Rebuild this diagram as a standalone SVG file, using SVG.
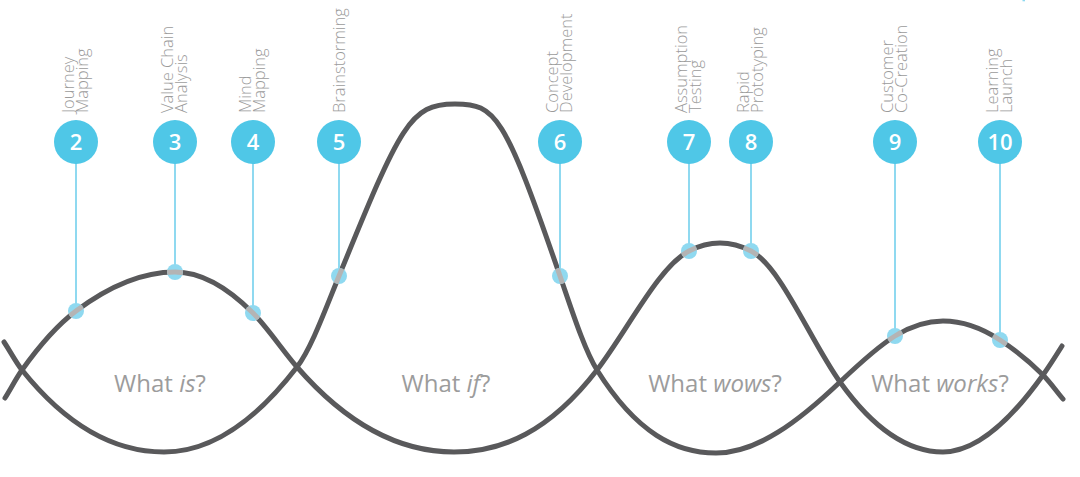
<svg xmlns="http://www.w3.org/2000/svg" width="1080" height="477" viewBox="0 0 1080 477">
<style>
.wave{fill:none;stroke:#59595b;stroke-width:5;stroke-linecap:round}
.waveLite{fill:none;stroke:#b4b4b4;stroke-width:5}
.stem{stroke:#8fd9f0;stroke-width:2}
.dot{fill:#8fd9f0}
.badge{fill:#4fc7e7}
.num{font-family:"Open Sans","DejaVu Sans",sans-serif;font-size:22px;font-weight:600;fill:#ffffff;text-anchor:middle}
.lbl{font-family:"Open Sans","DejaVu Sans",sans-serif;font-size:16.5px;font-weight:300;fill:#9b9b9b}
.q{font-family:"Open Sans","DejaVu Sans",sans-serif;font-size:24px;font-weight:400;fill:#9c9c9c;text-anchor:middle}
.it{font-style:italic}
</style>
<defs>
<path id="curveA" d="M5,398 C10.67,388.93 16.33,377.93 22,370 C40,344.8 58,324.5 76,311 C109,286.25 142,272 175,272 C201,272 227,287 253,313 C267.67,327.67 282.33,350.13 297,367 C349.33,427.18 401.67,452 454,452 C501.67,452 549.33,431.97 597,370 C627.67,330.13 658.33,266.95 689,251 C699.33,245.63 709.67,243 720,243 C730.33,243 740.67,245.63 751,251 C780.67,266.43 810.33,340.47 840,382 C874.33,430.07 908.67,452 943,452 C976.33,452 1009.67,421.67 1043,375 C1049.33,366.13 1055.67,356.13 1062,346"/>
<path id="curveB" d="M4,342 C10,351 16,362.5 22,370 C69.33,429.17 116.67,452 164,452 C208.33,452 252.67,424.63 297,367 C311,348.8 325,310.3 339,276 C401,124.1 410,104 455,104 C495.7,104 504,113.6 560,276 C572.33,311.77 584.67,350.27 597,370 C636.67,433.47 676.33,453 716,453 C757.33,453 798.67,421.27 840,382 C858.33,364.58 876.67,347.37 895,336 C911,326.08 927,321 943,321 C962,321 981,327.46 1000,340 C1014.33,349.46 1028.67,360.67 1043,375 C1049.67,381.67 1056.33,391 1063,399"/>
<clipPath id="dotClip">
<circle cx="76" cy="311" r="8"/><circle cx="175" cy="272" r="8"/><circle cx="253" cy="313" r="8"/><circle cx="339" cy="276" r="8"/><circle cx="560" cy="276" r="8"/><circle cx="689" cy="251" r="8"/><circle cx="751" cy="251" r="8"/><circle cx="895" cy="336" r="8"/><circle cx="1000" cy="340" r="8"/>
</clipPath>
</defs>
<rect width="1080" height="477" fill="#ffffff"/>
<rect x="1022.5" y="0" width="2.5" height="1.3" fill="#8fd9f0"/>

<g id="connectors">
<use href="#curveA" class="wave"/>
<use href="#curveB" class="wave"/>
</g>

<g id="node2"><line class="stem" x1="76" y1="160" x2="76" y2="311"/><circle class="dot" cx="76" cy="311" r="8"/><circle class="badge" cx="76" cy="142" r="22"/><text class="num" x="76" y="150">2</text><text class="lbl" transform="translate(76,113) rotate(-90)"><tspan x="0" y="-2.5">Journey</tspan><tspan x="0" y="11.5">Mapping</tspan></text></g>
<g id="node3"><line class="stem" x1="175" y1="160" x2="175" y2="272"/><circle class="dot" cx="175" cy="272" r="8"/><circle class="badge" cx="175" cy="142" r="22"/><text class="num" x="175" y="150">3</text><text class="lbl" transform="translate(175,113) rotate(-90)"><tspan x="0" y="-2.5">Value Chain</tspan><tspan x="0" y="11.5">Analysis</tspan></text></g>
<g id="node4"><line class="stem" x1="253" y1="160" x2="253" y2="313"/><circle class="dot" cx="253" cy="313" r="8"/><circle class="badge" cx="253" cy="142" r="22"/><text class="num" x="253" y="150">4</text><text class="lbl" transform="translate(253,113) rotate(-90)"><tspan x="0" y="-2.5">Mind</tspan><tspan x="0" y="11.5">Mapping</tspan></text></g>
<g id="node5"><line class="stem" x1="339" y1="160" x2="339" y2="276"/><circle class="dot" cx="339" cy="276" r="8"/><circle class="badge" cx="339" cy="142" r="22"/><text class="num" x="339" y="150">5</text><text class="lbl" transform="translate(339,113) rotate(-90)"><tspan x="0" y="6">Brainstorming</tspan></text></g>
<g id="node6"><line class="stem" x1="560" y1="160" x2="560" y2="276"/><circle class="dot" cx="560" cy="276" r="8"/><circle class="badge" cx="560" cy="142" r="22"/><text class="num" x="560" y="150">6</text><text class="lbl" transform="translate(560,113) rotate(-90)"><tspan x="0" y="-2.5">Concept</tspan><tspan x="0" y="11.5">Development</tspan></text></g>
<g id="node7"><line class="stem" x1="689" y1="160" x2="689" y2="251"/><circle class="dot" cx="689" cy="251" r="8"/><circle class="badge" cx="689" cy="142" r="22"/><text class="num" x="689" y="150">7</text><text class="lbl" transform="translate(689,113) rotate(-90)"><tspan x="0" y="-2.5">Assumption</tspan><tspan x="0" y="11.5">Testing</tspan></text></g>
<g id="node8"><line class="stem" x1="751" y1="160" x2="751" y2="251"/><circle class="dot" cx="751" cy="251" r="8"/><circle class="badge" cx="751" cy="142" r="22"/><text class="num" x="751" y="150">8</text><text class="lbl" transform="translate(751,113) rotate(-90)"><tspan x="0" y="-2.5">Rapid</tspan><tspan x="0" y="11.5">Prototyping</tspan></text></g>
<g id="node9"><line class="stem" x1="895" y1="160" x2="895" y2="336"/><circle class="dot" cx="895" cy="336" r="8"/><circle class="badge" cx="895" cy="142" r="22"/><text class="num" x="895" y="150">9</text><text class="lbl" transform="translate(895,113) rotate(-90)"><tspan x="0" y="-2.5">Customer</tspan><tspan x="0" y="11.5">Co-Creation</tspan></text></g>
<g id="node10"><line class="stem" x1="1000" y1="160" x2="1000" y2="340"/><circle class="dot" cx="1000" cy="340" r="8"/><circle class="badge" cx="1000" cy="142" r="22"/><text class="num" x="1000" y="150">10</text><text class="lbl" transform="translate(1000,113) rotate(-90)"><tspan x="0" y="-2.5">Learning</tspan><tspan x="0" y="11.5">Launch</tspan></text></g>

<g id="overlap" clip-path="url(#dotClip)">
<use href="#curveA" class="waveLite"/>
<use href="#curveB" class="waveLite"/>
</g>

<g id="phases">
<text class="q" x="160" y="392">What <tspan class="it">is</tspan>?</text>
<text class="q" x="446" y="392">What <tspan class="it">if</tspan>?</text>
<text class="q" x="715" y="392">What <tspan class="it">wows</tspan>?</text>
<text class="q" x="940" y="392">What <tspan class="it">works</tspan>?</text>
</g>
</svg>
